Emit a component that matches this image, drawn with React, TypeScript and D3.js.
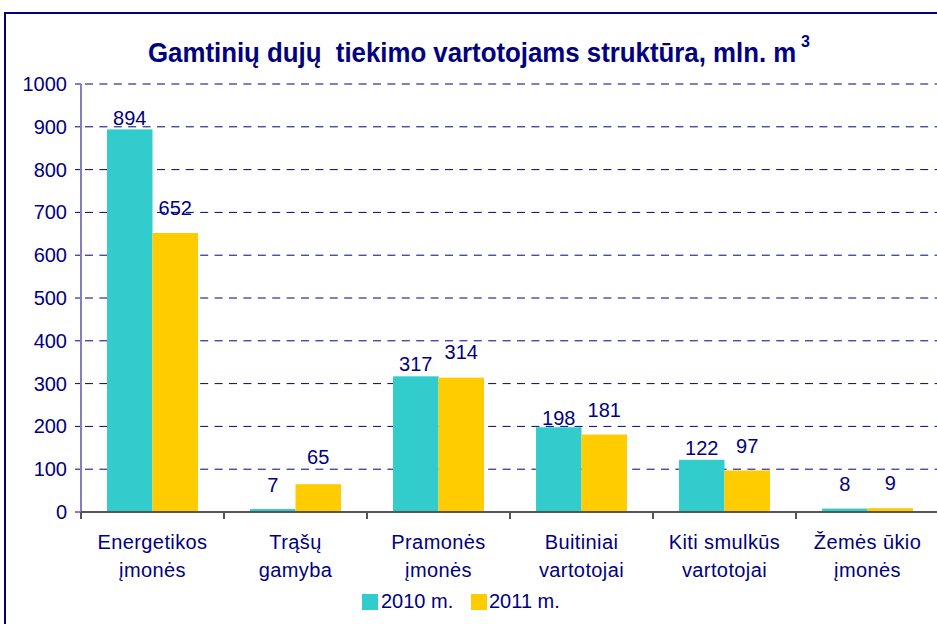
import React, { useLayoutEffect, useRef, useState } from "react";
import * as d3 from "d3";

const categories: string[][] = [
  ["Energetikos", "įmonės"],
  ["Trąšų", "gamyba"],
  ["Pramonės", "įmonės"],
  ["Buitiniai", "vartotojai"],
  ["Kiti smulkūs", "vartotojai"],
  ["Žemės ūkio", "įmonės"],
];
const series2010: number[] = [894, 7, 317, 198, 122, 8];
const series2011: number[] = [652, 65, 314, 181, 97, 9];
const seriesNames: string[] = ["2010 m.", "2011 m."];
const yTicks: number[] = [0, 100, 200, 300, 400, 500, 600, 700, 800, 900, 1000];
const titleText = "Gamtinių dujų  tiekimo vartotojams struktūra, mln. m";

// label lift above bar top (px), as placed in the original
const labelLift2010: number[] = [4, 17, 5, 2, 4.5, 18];
const labelLift2011: number[] = [18, 20, 19, 17.5, 17, 18];

const NAVY = "#000080";
const TEAL = "#33CCCC";
const GOLD = "#FFCC00";
const FONT = "'Liberation Sans', Arial, sans-serif";

export default function App() {
  const W = 937;
  const H = 624;
  const left = 81;
  const bandW = 143;
  const right = left + bandW * categories.length;
  const y = d3.scaleLinear().domain([0, 1000]).range([512, 84]);
  const x0 = d3
    .scaleBand<number>()
    .domain(d3.range(categories.length))
    .range([left, right])
    .padding(0);
  const bw = x0.bandwidth();
  const x1 = d3
    .scaleBand<number>()
    .domain([0, 1])
    .range([bw * 0.182, bw * 0.818])
    .padding(0);
  const seriesVals = [series2010, series2011];
  const lifts = [labelLift2010, labelLift2011];
  const colors = [TEAL, GOLD];

  const titleRef = useRef<SVGTextElement>(null);
  const [sx, setSx] = useState(0.77);
  useLayoutEffect(() => {
    if (titleRef.current) {
      const w = titleRef.current.getComputedTextLength();
      if (w > 0) setSx(648 / w);
    }
  }, []);

  return (
    <svg
      width={W}
      height={H}
      style={{ position: "absolute", left: 0, top: 0, background: "#fff" }}
      fontFamily={FONT}
    >
      <rect x={0} y={0} width={W} height={H} fill="#fff" />
      {/* frame */}
      <rect x={5} y={13} width={1200} height={1200} fill="none" stroke={NAVY} strokeWidth={2} />
      {/* title */}
      <g transform={`translate(148,62) scale(${sx},1)`}>
        <text
          ref={titleRef}
          x={0}
          y={0}
          fontSize={28}
          fontWeight="bold"
          fill={NAVY}
          style={{ whiteSpace: "pre" }}
        >
          {titleText}
        </text>
      </g>
      <text x={801} y={47} fontSize={16} fontWeight="bold" fill={NAVY}>
        3
      </text>
      {/* grid */}
      {yTicks
        .filter((t) => t > 0)
        .map((t) => (
          <line
            key={"g" + t}
            x1={left}
            x2={W + 10}
            y1={y(t)}
            y2={y(t)}
            stroke={NAVY}
            strokeWidth={1}
            strokeDasharray="8,6.4"
            strokeDashoffset={-4}
          />
        ))}
      {/* y ticks & labels */}
      {yTicks.map((t) => (
        <g key={"t" + t}>
          <line x1={75} x2={left} y1={y(t)} y2={y(t)} stroke={NAVY} strokeWidth={1} />
          <text x={67} y={y(t) + 7} textAnchor="end" fontSize={20} fill={NAVY}>
            {t}
          </text>
        </g>
      ))}
      {/* bars */}
      {categories.map((_, i) =>
        seriesVals.map((vals, s) => (
          <rect
            key={"b" + i + "-" + s}
            x={(x0(i) as number) + (x1(s) as number)}
            y={y(vals[i])}
            width={x1.bandwidth()}
            height={y(0) - y(vals[i])}
            fill={colors[s]}
          />
        ))
      )}
      {/* axes */}
      <line x1={left} x2={left} y1={y(1000)} y2={y(0) + 7} stroke="#8080c0" strokeWidth={2} />
      <line x1={left} x2={W + 10} y1={y(0)} y2={y(0)} stroke="#555" strokeWidth={2} />
      {d3.range(categories.length + 1).map((i) => (
        <line
          key={"xt" + i}
          x1={left + i * bw}
          x2={left + i * bw}
          y1={y(0)}
          y2={y(0) + 7}
          stroke="#555"
          strokeWidth={2}
        />
      ))}
      {/* data labels */}
      {categories.map((_, i) =>
        seriesVals.map((vals, s) => (
          <text
            key={"l" + i + "-" + s}
            x={(x0(i) as number) + (x1(s) as number) + x1.bandwidth() / 2}
            y={y(vals[i]) - lifts[s][i]}
            textAnchor="middle"
            fontSize={20}
            fill={NAVY}
          >
            {vals[i]}
          </text>
        ))
      )}
      {/* category labels */}
      {categories.map((lines, i) => (
        <text
          key={"c" + i}
          x={(x0(i) as number) + bw / 2}
          textAnchor="middle"
          fontSize={20}
          fill={NAVY}
          letterSpacing={0.4}
        >
          {lines.map((ln, k) => (
            <tspan key={k} x={(x0(i) as number) + bw / 2} y={549 + k * 27.5}>
              {ln}
            </tspan>
          ))}
        </text>
      ))}
      {/* legend */}
      <rect x={362} y={594} width={16} height={16} fill={TEAL} />
      <text x={381} y={608} fontSize={20} fill={NAVY}>
        {seriesNames[0]}
      </text>
      <rect x={471} y={594} width={16} height={16} fill={GOLD} />
      <text x={489} y={608} fontSize={20} fill={NAVY}>
        {seriesNames[1]}
      </text>
    </svg>
  );
}
